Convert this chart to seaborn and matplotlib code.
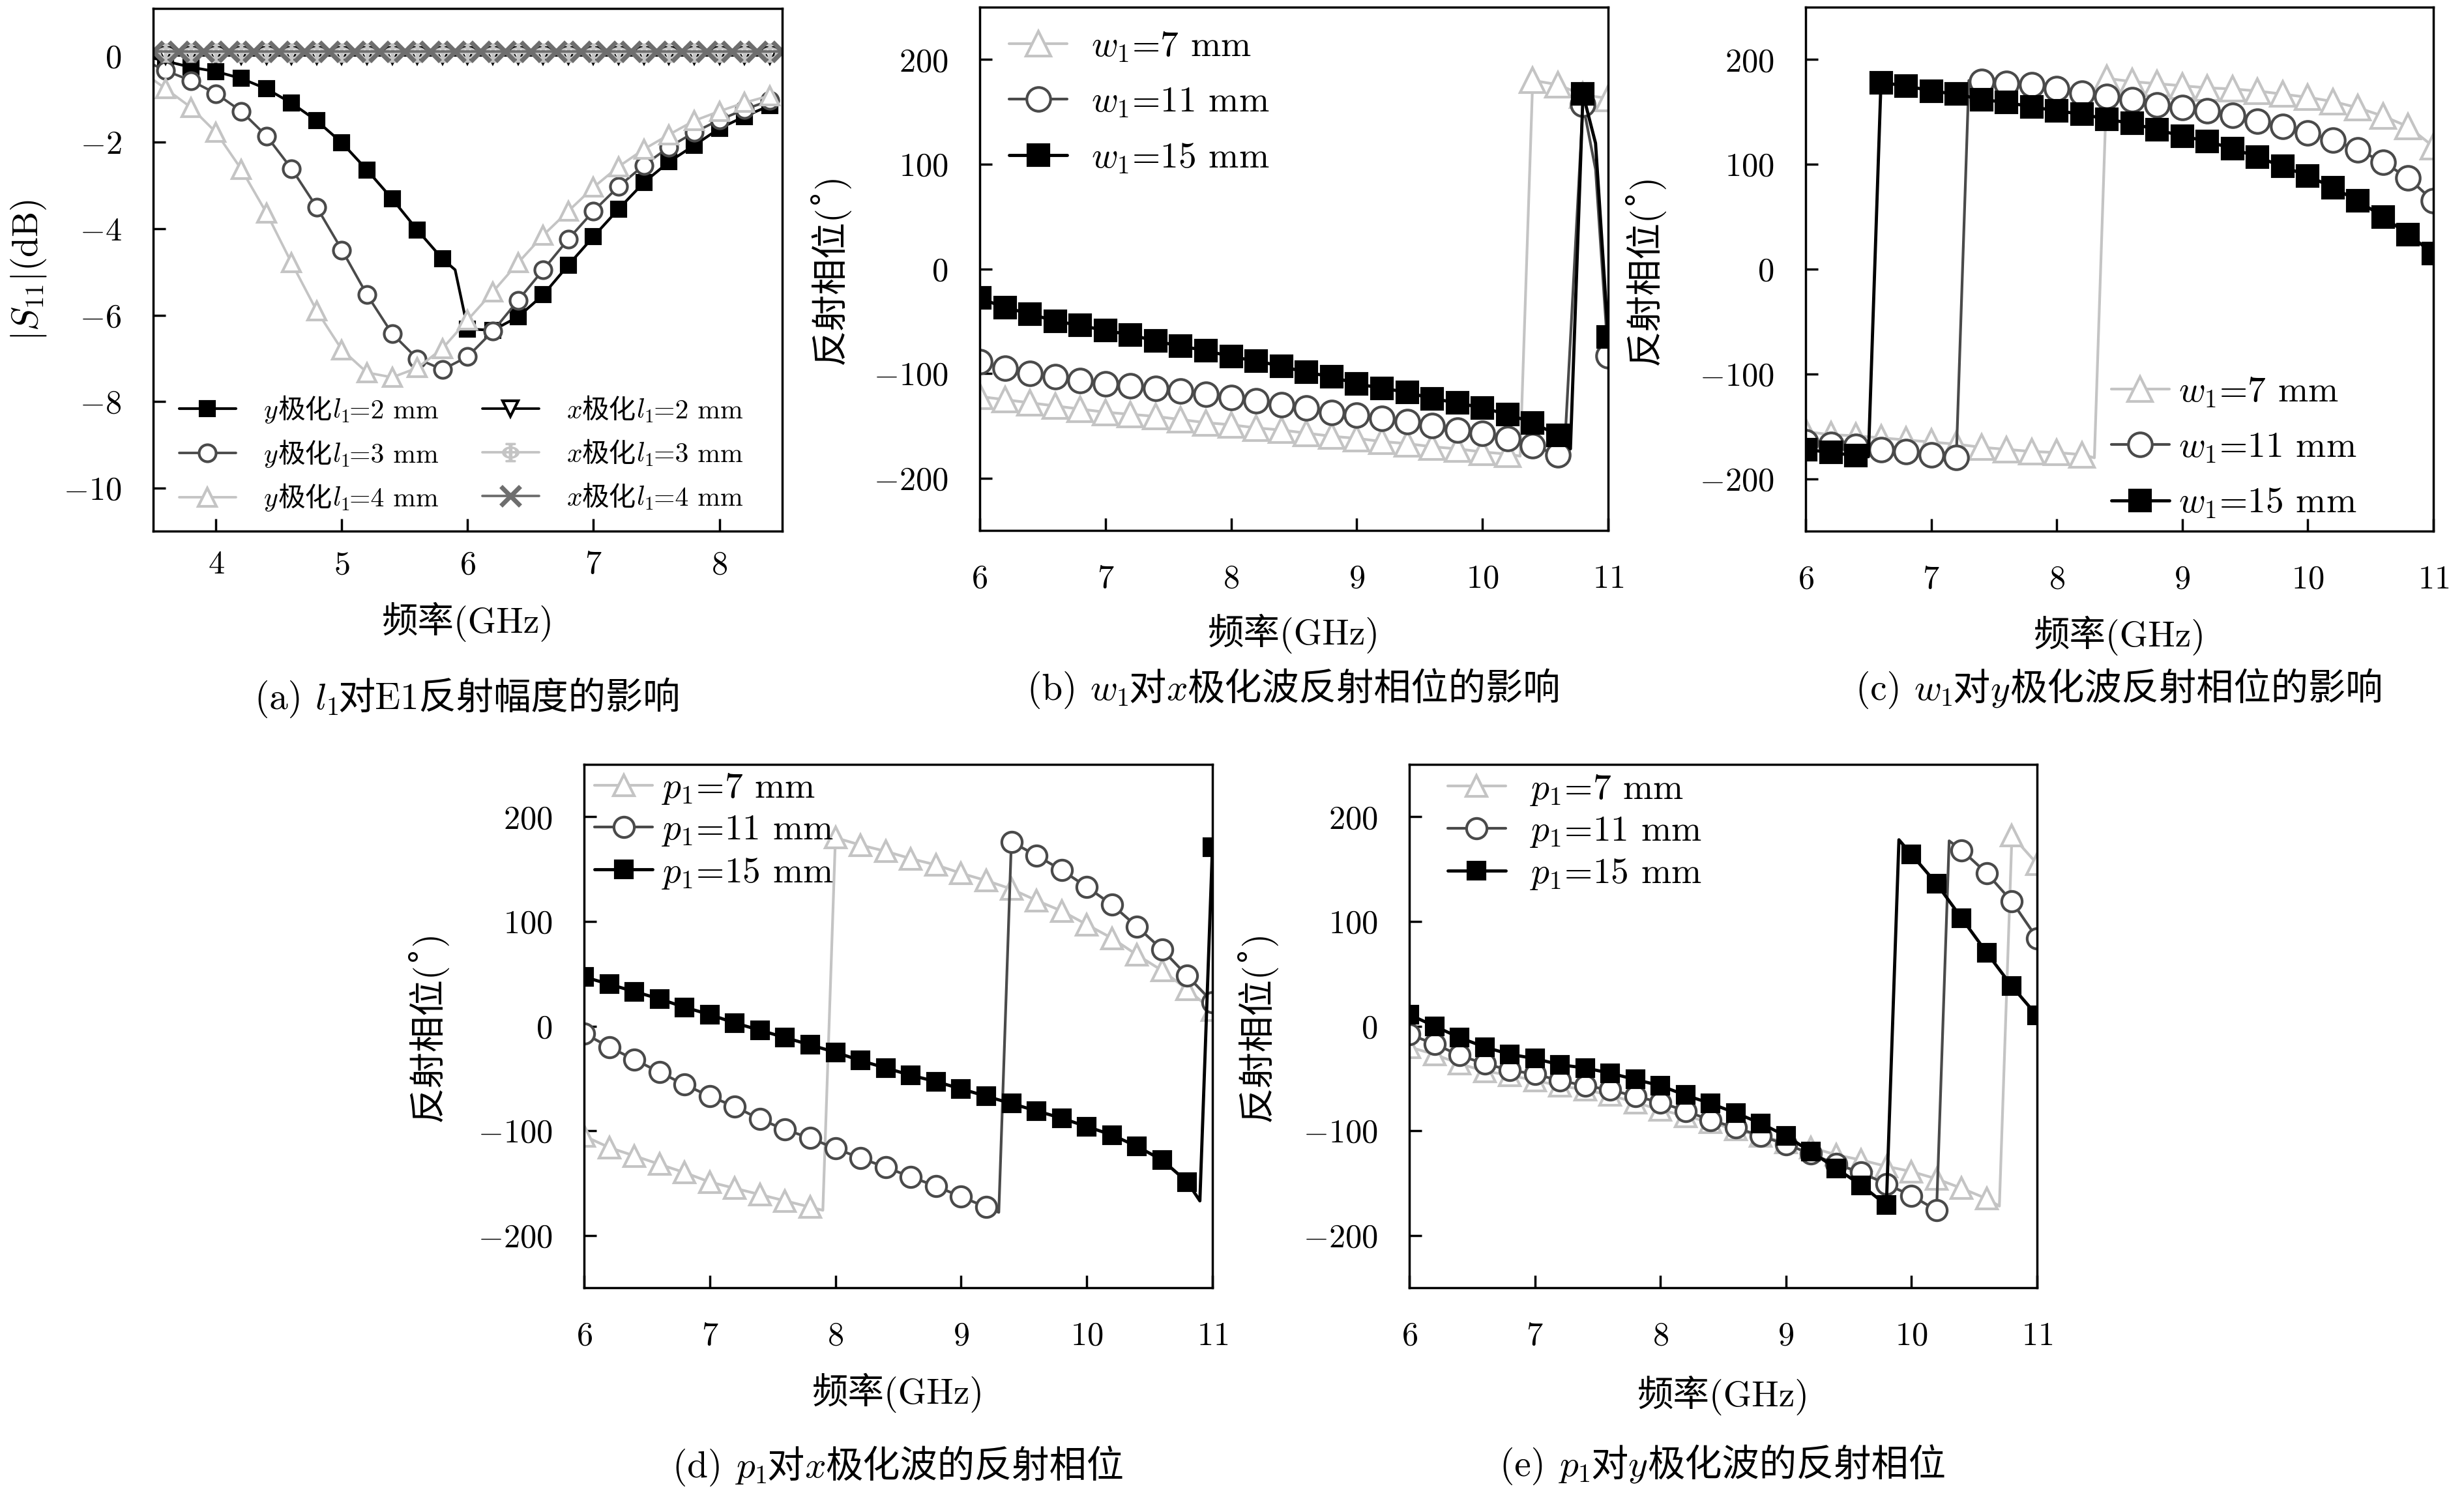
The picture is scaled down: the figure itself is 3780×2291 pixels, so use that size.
import numpy as np
import matplotlib
matplotlib.use("Agg")
import matplotlib.pyplot as plt
from matplotlib.offsetbox import TextArea, HPacker, AnchoredOffsetbox
import seaborn as sns


def grid(a, b):
    return [round(v, 1) for v in np.arange(a, b + 1e-9, 0.2)]

# ---------------- (a) |S11| vs frequency ----------------
a_x_l2 = [3.5] + grid(3.6, 5.8) + [5.9] + grid(6.0, 8.4)
a_y_l2 = [-0.05, -0.12, -0.26, -0.36, -0.52, -0.76, -1.09, -1.50, -2.01, -2.64, -3.31,
          -4.03, -4.70, -4.95, -6.32, -6.35, -6.04, -5.53, -4.84, -4.18, -3.54, -2.93,
          -2.45, -2.07, -1.68, -1.40, -1.15]
a_x_y = [3.5] + grid(3.6, 8.4)
a_y_l3 = [-0.20, -0.34, -0.57, -0.87, -1.28, -1.85, -2.61, -3.50, -4.49, -5.53, -6.43,
          -7.01, -7.26, -6.96, -6.37, -5.66, -4.95, -4.24, -3.59, -3.02, -2.53, -2.11,
          -1.77, -1.48, -1.24, -1.03]
a_y_l4 = [-0.55, -0.76, -1.19, -1.77, -2.62, -3.63, -4.79, -5.90, -6.80, -7.33, -7.44,
          -7.22, -6.77, -6.11, -5.46, -4.79, -4.15, -3.59, -3.04, -2.56, -2.16, -1.82,
          -1.50, -1.28, -1.08, -0.92]
a_x_even = grid(3.6, 8.4)
a_x_odd = grid(3.5, 8.5)
a_xpol_l2 = [0.02, 0.02, 0.02, 0.02, 0.02, 0.02, 0.02, 0.02, 0.02, 0.02, 0.02, 0.02, 0.02,
             0.02, 0.02, 0.02, 0.02, 0.02, 0.02, 0.02, 0.02, 0.02, 0.02, 0.02, 0.02]
a_xpol_l3 = [0.08, 0.08, 0.08, 0.08, 0.08, 0.08, 0.08, 0.08, 0.08, 0.08, 0.08, 0.08, 0.08,
             0.08, 0.08, 0.08, 0.08, 0.08, 0.08, 0.08, 0.08, 0.08, 0.08, 0.08, 0.08]
a_xpol_l4 = [0.1, 0.1, 0.1, 0.1, 0.1, 0.1, 0.1, 0.1, 0.1, 0.1, 0.1, 0.1, 0.1,
             0.1, 0.1, 0.1, 0.1, 0.1, 0.1, 0.1, 0.1, 0.1, 0.1, 0.1, 0.1, 0.1]

# ---------------- (b) w1, x-pol phase ----------------
b_x7 = grid(6.0, 10.2) + [10.3] + grid(10.4, 11.0)
b_y7 = [-122, -125, -128, -131, -134, -137, -139, -141, -144, -147, -149, -152, -154,
        -157, -160, -162, -165, -167, -170, -172, -175, -177, -179, 180, 176, 166, 163]
b_x11 = grid(6.0, 10.6) + [10.65, 10.8, 10.9, 11.0]
b_y11 = [-89, -95, -100, -103, -107, -110, -112, -114, -117, -120, -123, -126, -130,
         -133, -137, -140, -143, -146, -150, -154, -157, -162, -169, -178, -180, 157, 95, -83]
b_x15 = grid(6.0, 10.6) + [10.7, 10.8, 10.9, 11.0]
b_y15 = [-28, -37, -43, -50, -54, -59, -63, -69, -74, -78, -84, -88, -93, -99, -103,
         -110, -114, -118, -124, -128, -133, -139, -147, -159, -172, 167, 120, -65]

# ---------------- (c) w1, y-pol phase ----------------
c_x7 = grid(6.0, 8.2) + [8.3] + grid(8.4, 11.0)
c_y7 = [-155, -158, -159, -161, -163, -165, -167, -170, -172, -174, -175, -177, -180,
        182, 179, 177, 175, 173, 172, 170, 167, 164, 160, 154, 146, 136, 117]
c_x11 = grid(6.0, 7.2) + [7.3] + grid(7.4, 11.0)
c_y11 = [-165, -167, -169, -172, -174, -177, -180, 180,
         179, 177, 176, 172, 168, 165, 162, 157, 154, 151, 147, 141, 136, 130, 123, 114,
         102, 87, 65]
c_x15 = grid(6.0, 6.4) + [6.5] + grid(6.6, 11.0)
c_y15 = [-172, -175, -178, -179,
         178, 175, 170, 167, 162, 159, 155, 151, 148, 143, 139, 133, 127, 122, 115, 107,
         98, 89, 78, 65, 50, 33, 15]

# ---------------- (d) p1, x-pol phase ----------------
d_x7 = grid(6.0, 7.8) + [7.9] + grid(8.0, 11.0)
d_y7 = [-105, -116, -124, -132, -140, -149, -155, -161, -167, -173, -176,
        180, 173, 167, 160, 154, 146, 139, 131, 120, 110, 97, 84, 68, 53, 35, 15]
d_x11 = grid(6.0, 9.2) + [9.3] + grid(9.4, 11.0)
d_y11 = [-7, -20, -32, -44, -56, -67, -77, -89, -99, -107, -117, -126, -135, -144, -153,
         -163, -173, -178, 176, 163, 149, 133, 116, 95, 73, 48, 23]
d_x15 = grid(6.0, 10.8) + [10.9, 11.0]
d_y15 = [47, 40, 33, 26, 18, 11, 3, -4, -11, -18, -25, -33, -40, -47, -53, -60, -67,
         -74, -81, -88, -96, -104, -115, -128, -149, -167, 171]

# ---------------- (e) p1, y-pol phase ----------------
e_x7 = grid(6.0, 10.6) + [10.7, 10.8, 11.0]
e_y7 = [-20, -27, -36, -43, -47, -52, -57, -61, -66, -73, -80, -86, -92, -99, -105,
        -111, -116, -123, -128, -134, -139, -146, -155, -165, -172, 182, 155]
e_x11 = grid(6.0, 10.2) + [10.3] + grid(10.4, 11.0)
e_y11 = [-8, -17, -28, -36, -42, -46, -52, -57, -61, -67, -73, -81, -90, -97, -105,
         -113, -122, -132, -140, -151, -162, -176, 177, 168, 146, 119, 84]
e_x15 = grid(6.0, 9.8) + [9.9] + grid(10.0, 11.0)
e_y15 = [11, 0, -11, -20, -27, -31, -37, -40, -45, -51, -57, -66, -74, -83, -93, -105,
         -120, -136, -152, -171, 178, 164, 136, 103, 70, 38, 10]

lab_w = ["$w_1$=7 mm", "$w_1$=11 mm", "$w_1$=15 mm"]
lab_p = ["$p_1$=7 mm", "$p_1$=11 mm", "$p_1$=15 mm"]
lab_a = [["$y$", "极化", "$l_1$", "=2 mm"], ["$y$", "极化", "$l_1$", "=3 mm"],
         ["$y$", "极化", "$l_1$", "=4 mm"], ["$x$", "极化", "$l_1$", "=2 mm"],
         ["$x$", "极化", "$l_1$", "=3 mm"], ["$x$", "极化", "$l_1$", "=4 mm"]]
xlabel = "频率(GHz)"
ylabel_phase = "反射相位(\u02da)"
ylabel_mag = "$|S_{11}|$(dB)"
captions = [["(a) ", "$l_1$", "对E1反射幅度的影响"],
            ["(b) ", "$w_1$", "对", "$x$", "极化波反射相位的影响"],
            ["(c) ", "$w_1$", "对", "$y$", "极化波反射相位的影响"],
            ["(d) ", "$p_1$", "对", "$x$", "极化波的反射相位"],
            ["(e) ", "$p_1$", "对", "$y$", "极化波的反射相位"]]

# ---------------- style ----------------
sns.set_theme(style="ticks")
plt.rcParams.update({
    "font.family": ["cmr10", "Noto Sans CJK SC", "DejaVu Sans"],
    "mathtext.fontset": "cm",
    "axes.formatter.use_mathtext": True,
    "axes.unicode_minus": True,
    "axes.edgecolor": "black",
    "axes.linewidth": 1.0,
    "axes.facecolor": "white",
    "figure.facecolor": "white",
    "xtick.direction": "in",
    "ytick.direction": "in",
    "xtick.major.size": 5.5,
    "ytick.major.size": 5.5,
    "xtick.major.width": 1.0,
    "ytick.major.width": 1.0,
    "xtick.color": "black",
    "ytick.color": "black",
    "text.color": "black",
    "axes.labelcolor": "black",
})

BLACK = "#000000"
DARK = "#4a4a4a"
LIGHT = "#c4c4c4"
MID = "#6e6e6e"

W, H = 3780, 2291
DPI = 250
fig = plt.figure(figsize=(W / DPI, H / DPI), dpi=DPI)


def box(l, t, r, b):
    return [l / W, 1 - b / H, (r - l) / W, (b - t) / H]


ax_a = fig.add_axes(box(235, 13, 1200, 815))
ax_b = fig.add_axes(box(1503, 11, 2467, 814))
ax_c = fig.add_axes(box(2770, 11, 3733, 815))
ax_d = fig.add_axes(box(896, 1173, 1860, 1976))
ax_e = fig.add_axes(box(2162, 1173, 3125, 1976))


def rich(pieces, size):
    kids = [TextArea(p, textprops=dict(fontsize=size, color="black")) for p in pieces]
    pack = HPacker(children=kids, pad=0, sep=0, align="baseline")
    pack.set_figure(fig)
    return pack


def draw(ax, x, y, color, marker, ms, mfc, label, lw=1.2, mew=1.2, every_grid=True):
    x = np.asarray(x, dtype=float)
    y = np.asarray(y, dtype=float)
    if every_grid:
        mask = [bool(v) for v in np.isclose(x * 5, np.round(x * 5))]
    else:
        mask = None
    sns.lineplot(x=x, y=y, ax=ax, sort=False, estimator=None, color=color,
                 marker=marker, markersize=ms, markerfacecolor=mfc,
                 markeredgecolor=color, markeredgewidth=mew, linewidth=lw,
                 markevery=mask, label=label, legend=False)


# (a)
a_names = ["".join(p) for p in lab_a]
draw(ax_a, a_x_l2, a_y_l2, BLACK, "s", 6.5, BLACK, a_names[0], lw=1.2)
draw(ax_a, a_x_y, a_y_l3, DARK, "o", 7.5, "white", a_names[1], lw=1.1)
draw(ax_a, a_x_y, a_y_l4, LIGHT, "^", 8.0, "white", a_names[2], lw=1.1)
draw(ax_a, a_x_even, a_xpol_l2, BLACK, "v", 7.0, "white", a_names[3], lw=1.1)
draw(ax_a, a_x_even, a_xpol_l3, LIGHT, "$\\Phi$", 8.0, LIGHT, a_names[4], lw=1.1, mew=0.6)
draw(ax_a, a_x_odd, a_xpol_l4, MID, "x", 8.5, MID, a_names[5], lw=1.1, mew=2.0, every_grid=False)

# (b)-(e)
BIG = (9.0, 10.5, 11.0)
SMALL = (7.5, 9.0, 9.5)
for ax, series, labs, sz in [
    (ax_b, [(b_x7, b_y7), (b_x11, b_y11), (b_x15, b_y15)], lab_w, BIG),
    (ax_c, [(c_x7, c_y7), (c_x11, c_y11), (c_x15, c_y15)], lab_w, BIG),
    (ax_d, [(d_x7, d_y7), (d_x11, d_y11), (d_x15, d_y15)], lab_p, SMALL),
    (ax_e, [(e_x7, e_y7), (e_x11, e_y11), (e_x15, e_y15)], lab_p, SMALL),
]:
    draw(ax, *series[0], LIGHT, "^", sz[2], "white", labs[0], lw=1.2)
    draw(ax, *series[1], DARK, "o", sz[1], "white", labs[1], lw=1.2)
    draw(ax, *series[2], BLACK, "s", sz[0], BLACK, labs[2], lw=1.4)

# axes formatting
ax_a.set_xlim(3.5, 8.5)
ax_a.set_ylim(-11, 1.1)
ax_a.set_xticks([4, 5, 6, 7, 8])
ax_a.set_yticks([0, -2, -4, -6, -8, -10])
for ax in (ax_b, ax_c, ax_d, ax_e):
    ax.set_xlim(6, 11)
    ax.set_ylim(-250, 250)
    ax.set_xticks([6, 7, 8, 9, 10, 11])
    ax.set_yticks([-200, -100, 0, 100, 200])

xpads = {ax_a: 8.5, ax_b: 15, ax_c: 15, ax_d: 15, ax_e: 15}
for ax in (ax_a, ax_b, ax_c, ax_d, ax_e):
    for s in ax.spines.values():
        s.set_visible(True)
        s.set_color("black")
        s.set_linewidth(1.0)
    ax.tick_params(axis="x", which="both", top=False, bottom=True, pad=xpads[ax], labelsize=14.5)
    ax.tick_params(axis="y", which="both", right=False, left=True, pad=14, labelsize=14.5)
    ax.set_xlabel(xlabel, fontsize=16)
    ax.grid(False)

ax_a.set_ylabel(ylabel_mag, fontsize=16)
for ax in (ax_b, ax_c, ax_d, ax_e):
    ax.set_ylabel(ylabel_phase, fontsize=16)

for ax, xl, yl in [(ax_a, -0.136, -0.167), (ax_b, -0.159, -0.207), (ax_c, -0.162, -0.224),
                   (ax_d, -0.163, -0.217), (ax_e, -0.168, -0.211)]:
    ax.xaxis.set_label_coords(0.5, xl)
    ax.xaxis.label.set_va("top")
    ax.yaxis.set_label_coords(yl, 0.5)

# legend (a): mixed-font labels
h, l = ax_a.get_legend_handles_labels()
leg_a = ax_a.legend(h, l, ncol=2, loc="upper left", bbox_to_anchor=(0.041, 0.256), frameon=False,
                    fontsize=12, borderpad=0, borderaxespad=0, handlelength=2.1, handletextpad=1.0,
                    columnspacing=1.6, labelspacing=0.62, numpoints=1)
try:
    items = [it for col in leg_a._legend_handle_box.get_children() for it in col.get_children()]
    for it, pcs in zip(items, lab_a):
        kids = it.get_children()
        kids[1] = rich(pcs, 12)
except Exception:
    pass

leg_pos = {ax_b: (0.047, 0.956, 0.62, 0.67), ax_c: (0.487, 0.297, 0.62, 0.25),
           ax_d: (0.017, 0.986, 0.22, 0.25), ax_e: (0.061, 0.984, 0.22, 0.67)}
for ax, (lx, ly, sp, tp) in leg_pos.items():
    h, l = ax.get_legend_handles_labels()
    ax.legend(h, l, loc="upper left", bbox_to_anchor=(lx, ly), frameon=False, fontsize=16,
              borderpad=0, borderaxespad=0, handlelength=1.6, handletextpad=tp,
              labelspacing=sp, numpoints=1)

# captions
for ax, cap, yc in [(ax_a, captions[0], 1073), (ax_b, captions[1], 1059), (ax_c, captions[2], 1059),
                    (ax_d, captions[3], 2252), (ax_e, captions[4], 2250)]:
    pos = ax.get_position()
    ab = AnchoredOffsetbox(loc="center", child=rich(cap, 16.5), pad=0, borderpad=0,
                           frameon=False, bbox_to_anchor=((pos.x0 + pos.x1) / 2, 1 - yc / H),
                           bbox_transform=fig.transFigure)
    fig.add_artist(ab)

fig.savefig("out.png", dpi=DPI, facecolor="white")
